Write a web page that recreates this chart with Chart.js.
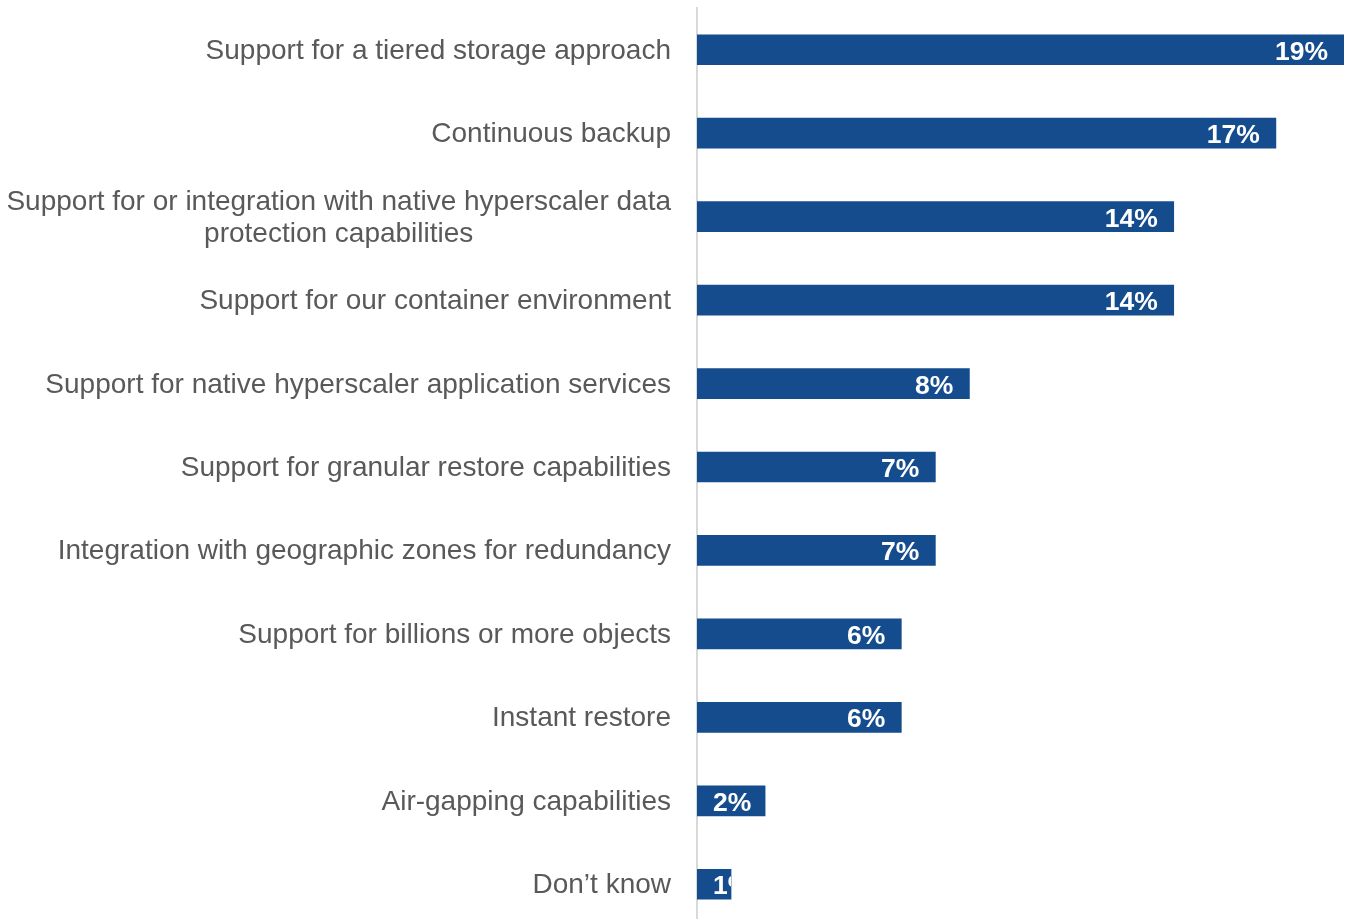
<!DOCTYPE html>
<html>
<head>
<meta charset="utf-8">
<script src="https://cdn.jsdelivr.net/npm/chart.js@4"></script>
<style>
  html, body { margin: 0; padding: 0; background: #fff; overflow: hidden; }
  #wrap { position: relative; width: 1346px; height: 926px; }
</style>
</head>
<body>
<div id="wrap"><canvas id="featChart"></canvas></div>
<script>
/* =========================
   DATA
========================= */
const categories = [
  "Support for a tiered storage approach",
  "Continuous backup",
  ["Support for or integration with native hyperscaler data", "protection capabilities"],
  "Support for our container environment",
  "Support for native hyperscaler application services",
  "Support for granular restore capabilities",
  "Integration with geographic zones for redundancy",
  "Support for billions or more objects",
  "Instant restore",
  "Air-gapping capabilities",
  "Don\u2019t know"
];
const values = [19, 17, 14, 14, 8, 7, 7, 6, 6, 2, 1];
const valueLabels = values.map(v => v + "%");

const BAR = "#154c8e";
const TEXT = "#595959";
const FONT = "'Liberation Sans', Arial, sans-serif";

/* =========================
   PLUGIN: category labels + value labels
========================= */
const labelPlugin = {
  id: "labels",
  afterDatasetsDraw(chart) {
    const ctx = chart.ctx;
    const y = chart.scales.y;
    const area = chart.chartArea;
    const meta = chart.getDatasetMeta(0);

    // category labels, right aligned, multi-line centred as a block
    ctx.save();
    ctx.fillStyle = TEXT;
    ctx.font = "28px " + FONT;
    ctx.textBaseline = "alphabetic";
    const right = area.left - 26;
    const lh = 32;
    categories.forEach((c, i) => {
      const lines = Array.isArray(c) ? c : [c];
      const cy = y.getPixelForValue(i);
      const w = Math.max(...lines.map(l => ctx.measureText(l).width));
      const mid = right - w / 2;
      const top = cy - (lines.length - 1) * lh / 2;
      ctx.textAlign = "center";
      lines.forEach((l, j) => ctx.fillText(l, mid, top + j * lh + 9));
    });
    ctx.restore();

    // value labels inside bars, clipped to the bar
    ctx.save();
    ctx.fillStyle = "#ffffff";
    ctx.font = "bold 26.5px " + FONT;
    ctx.textAlign = "left";
    meta.data.forEach((bar, i) => {
      const txt = valueLabels[i];
      const w = ctx.measureText(txt).width;
      const x = Math.max(bar.x - 16 - w, bar.base + 16);
      ctx.save();
      ctx.beginPath();
      ctx.rect(bar.base, bar.y - bar.height / 2, bar.x - bar.base, bar.height);
      ctx.clip();
      ctx.fillText(txt, x, bar.y + 10);
      ctx.restore();
    });
    ctx.restore();
  }
};

/* =========================
   CHART
========================= */
new Chart(document.getElementById("featChart"), {
  type: "bar",
  data: {
    labels: categories,
    datasets: [{
      data: values,
      backgroundColor: BAR,
      barThickness: 30
    }]
  },
  options: {
    indexAxis: "y",
    responsive: true,
    maintainAspectRatio: false,
    animation: false,
    layout: { padding: { top: 8, right: 2, bottom: 0, left: 0 } },
    plugins: {
      legend: { display: false },
      tooltip: { enabled: false }
    },
    scales: {
      x: {
        min: 0,
        max: 19,
        display: false
      },
      y: {
        grid: { display: false },
        border: { display: true, color: "#d9d9d9", width: 2 },
        ticks: { display: false },
        afterFit: s => { s.width = 697; }
      }
    }
  },
  plugins: [labelPlugin]
});
</script>
</body>
</html>
